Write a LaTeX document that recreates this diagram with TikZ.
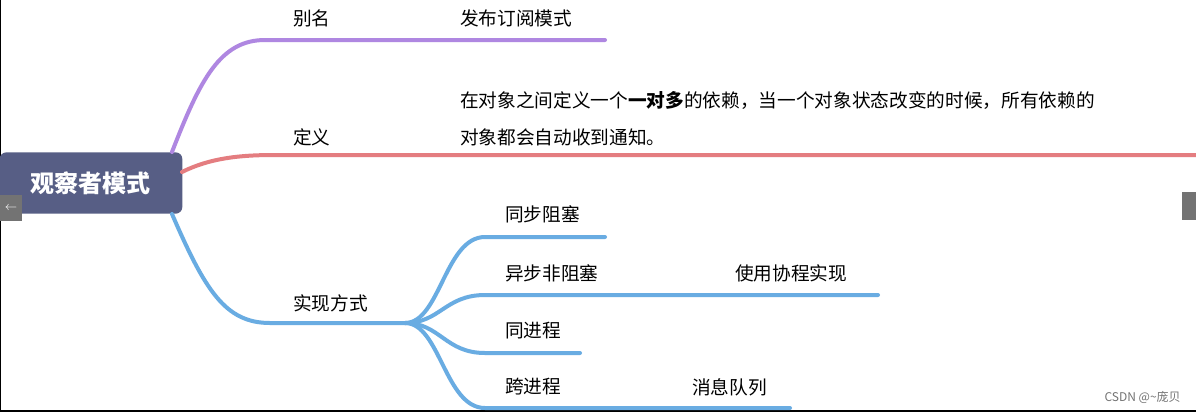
\documentclass[tikz,border=0pt]{standalone}
\usepackage{fontspec}
\newfontfamily\cjk{Noto Sans CJK SC}
\usetikzlibrary{positioning}
\definecolor{rootblue}{RGB}{87,94,133}
\definecolor{brpurple}{RGB}{175,135,225}
\definecolor{brred}{RGB}{228,125,128}
\definecolor{brblue}{RGB}{105,172,226}
\tikzset{
	lbl/.style={
		anchor=west,
		inner sep=0pt,
		font=\cjk\fontsize{14}{17}\selectfont,
	},
	branch/.style={
		line width=3pt,
		line cap=round,
	},
	navbtn/.style={
		fill=black!55,
		text=white,
		inner sep=0pt,
		font=\small,
	},
}
\begin{document}
\begin{tikzpicture}[x=0.75pt,y=-0.75pt]
	\useasboundingbox (0,0) rectangle (1196,412);
	\fill[white] (0,0) rectangle (1196,412);
	\draw[line width=1.5pt] (0,0) -- (0,412);
	\draw[line width=1.5pt] (0,411) -- (1196,411);

	% root
	\node [
	  fill=rootblue,
	  rounded corners=5pt,
	  minimum width=137pt,
	  minimum height=46pt,
	  text=white,
	  font=\cjk\bfseries\fontsize{18}{20}\selectfont,
	] (root) at (91,183) {观察者模式};

	% alias branch
	\coordinate (a0) at (172,152);
	\coordinate (a1) at (265,40);
	\coordinate (a2) at (605,40);
	\draw[branch,brpurple] (a0) .. controls (200,80) and (220,40) .. (a1) -- (a2);
	\node [lbl] (alias) at (293,18) {别名};
	\node [lbl] (aliasv) at (460,18) {发布订阅模式};

	% definition branch
	\coordinate (d0) at (182,172);
	\coordinate (d1) at (275,155);
	\coordinate (d2) at (1196,155);
	\draw[branch,brred] (d0) .. controls (210,158) and (240,155) .. (d1) -- (d2);
	\node [lbl] (def) at (293,137) {定义};
	\node [lbl] (defv1) at (460,100) {在对象之间定义一个\textbf{一对多}的依赖，当一个对象状态改变的时候，所有依赖的};
	\node [lbl] (defv2) at (460,137) {对象都会自动收到通知。};

	% implementation branch
	\coordinate (b0) at (172,214);
	\coordinate (b1) at (270,323);
	\coordinate (b2) at (405,323);
	\draw[branch,brblue] (b0) .. controls (205,290) and (225,323) .. (b1) -- (b2);
	\node [lbl] (impl) at (293,303) {实现方式};

	\foreach \y/\e/\name in {237/605/sync, 295/878/async, 353/580/local, 408/790/remote}
	  \draw[branch,brblue] (b2) .. controls (440,323) and (445,\y) .. (485,\y) -- (\e,\y);

	\node [lbl] (sync) at (505,214) {同步阻塞};
	\node [lbl] (async) at (505,273) {异步非阻塞};
	\node [lbl] (asyncv) at (735,273) {使用协程实现};
	\node [lbl] (local) at (505,331) {同进程};
	\node [lbl] (remote) at (505,387) {跨进程};
	\node [lbl] (remotev) at (692,387) {消息队列};

	% screen artefacts
	\node [navbtn, minimum width=16pt, minimum height=19pt, anchor=north west] (lbtn) at (0,195) {$\leftarrow$};
	\node [navbtn, minimum width=11pt, minimum height=21pt, anchor=north west] (rbtn) at (1182,192) {};
	\node [anchor=east, inner sep=0pt, text=black!55, font=\cjk\fontsize{9}{10}\selectfont] (mark) at (1181,397) {CSDN @\textasciitilde 庞贝};
\end{tikzpicture}
\end{document}
